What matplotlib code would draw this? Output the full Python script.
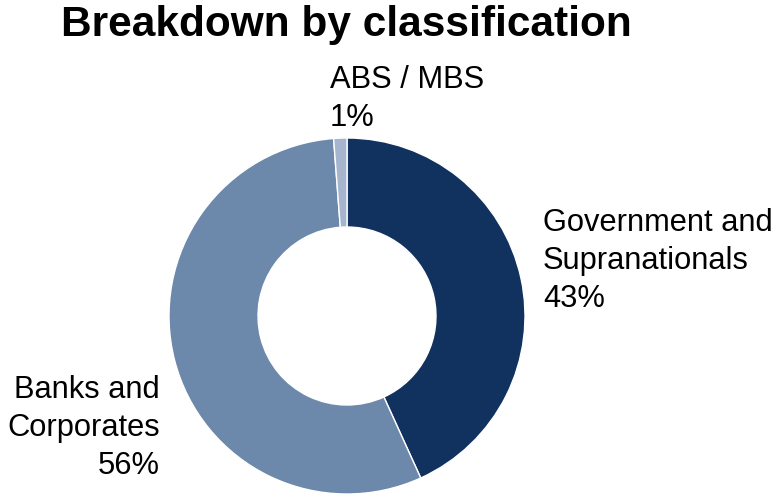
import matplotlib.pyplot as plt

plt.rcParams['font.family'] = ['Liberation Sans', 'DejaVu Sans']

# Slice data, clockwise from the top
labels = ['Government and\nSupranationals', 'Banks and\nCorporates', 'ABS / MBS']
values = [43.2, 55.6, 1.2]
pct_labels = ['43%', '56%', '1%']
colors = ['#11325f', '#6c88ab', '#a6b5cd']

W, H = 782, 495
fig = plt.figure(figsize=(W / 100, H / 100), dpi=100)
ax = fig.add_axes([0, 0, 1, 1])

# Donut, coordinates in pixels (y measured from the bottom)
cx, cy, r = 347, H - 316, 178
ax.pie(values, colors=colors, startangle=90, counterclock=False,
       center=(cx, cy), radius=r, frame=True,
       wedgeprops=dict(width=r * 0.5, edgecolor='white', linewidth=1))
ax.set_xlim(0, W)
ax.set_ylim(0, H)
ax.set_aspect('equal')
ax.axis('off')

ax.text(346, H - 25, 'Breakdown by classification', fontsize=30.5,
        fontweight='bold', ha='center', va='center')

ax.text(543, H - 261, labels[0] + '\n' + pct_labels[0], fontsize=22.2,
        ha='left', va='center', linespacing=1.33)
ax.text(160, H - 428, labels[1] + '\n' + pct_labels[1], fontsize=22.2,
        ha='right', va='center', linespacing=1.33, multialignment='right')
ax.text(330, H - 99, labels[2] + '\n' + pct_labels[2], fontsize=22.2,
        ha='left', va='center', linespacing=1.33)

fig.savefig('out.png', dpi=100)
